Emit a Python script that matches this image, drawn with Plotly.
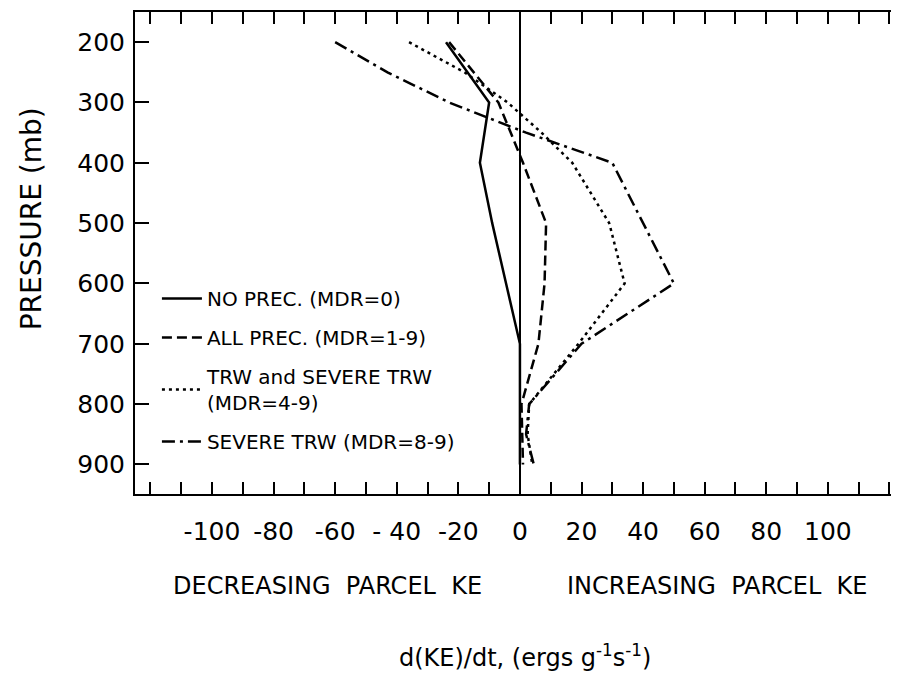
import plotly.graph_objects as go

# pressure levels (mb) and d(KE)/dt values
no_prec_p = [200, 300, 400, 500, 600, 700, 800, 900]
no_prec_x = [-24, -10, -13, -9, -4.5, 0, 0, 0]

all_prec_p = [200, 300, 400, 500, 600, 700, 800, 900]
all_prec_x = [-23, -7, 1, 8.5, 8, 6, 0.5, 1]

trw_p = [200, 250, 300, 350, 400, 500, 600, 700, 800, 850, 900]
trw_x = [-36, -18, -4, 7, 17, 29, 34, 19, 3, 2.5, 4]

severe_p = [200, 250, 300, 350, 400, 500, 600, 700, 800, 850, 900]
severe_x = [-60, -43, -23, 2, 30, 40, 50, 20, 3, 2, 4.5]

series_names = [
    "NO PREC. (MDR=0)",
    "ALL PREC. (MDR=1-9)",
    "TRW and SEVERE TRW<br>(MDR=4-9)",
    "SEVERE TRW (MDR=8-9)",
]

x_tickvals = [-100, -80, -60, -40, -20, 0, 20, 40, 60, 80, 100]
x_ticktext = ["-100", "-80", "-60", "- 40", "-20", "0", "20", "40", "60", "80", "100"]
y_tickvals = [200, 300, 400, 500, 600, 700, 800, 900]
y_ticktext = ["200", "300", "400", "500", "600", "700", "800", "900"]

FONT = "DejaVu Sans"
INK = "black"

series = [
    (no_prec_x, no_prec_p, "solid"),
    (all_prec_x, all_prec_p, "10px,5px"),
    (trw_x, trw_p, "3px,4px"),
    (severe_x, severe_p, "13px,5px,3px,5px"),
]

fig = go.Figure()
for i, (xs, ps, dash) in enumerate(series):
    fig.add_trace(
        go.Scatter(
            x=xs,
            y=ps,
            mode="lines",
            name=series_names[i],
            legendgroup=f"g{i}",
            line={"color": INK, "width": 2.5, "dash": dash},
        )
    )

axis_common = dict(
    showline=True,
    linecolor=INK,
    linewidth=2,
    ticks="inside",
    tickcolor=INK,
    tickwidth=2,
    showgrid=False,
    tickfont={"family": FONT, "size": 25, "color": INK},
)

fig.update_xaxes(
    range=[-125, 120.5],
    tickmode="array",
    tickvals=x_tickvals,
    ticktext=x_ticktext,
    ticklen=12,
    ticklabelstandoff=14,
    mirror="ticks",
    minor={"dtick": 10, "tick0": 0, "ticks": "inside", "ticklen": 12,
           "tickcolor": INK, "tickwidth": 2},
    zeroline=True,
    zerolinecolor=INK,
    zerolinewidth=2,
    **axis_common,
)
fig.update_yaxes(
    range=[949, 150],
    tickmode="array",
    tickvals=y_tickvals,
    ticktext=y_ticktext,
    ticklen=14,
    ticklabelstandoff=3,
    mirror=False,
    zeroline=False,
    **axis_common,
)

fig.add_annotation(text="PRESSURE (mb)", textangle=-90, xref="paper", yref="paper",
                   x=-0.1376, y=0.572, xanchor="center", yanchor="middle", showarrow=False,
                   font={"family": FONT, "size": 28, "color": INK})
fig.add_annotation(text="DECREASING  PARCEL  KE", xref="paper", yref="paper",
                   x=0.255, y=-0.19, xanchor="center", yanchor="middle", showarrow=False,
                   font={"family": FONT, "size": 24, "color": INK})
fig.add_annotation(text="INCREASING  PARCEL  KE", xref="paper", yref="paper",
                   x=0.77, y=-0.19, xanchor="center", yanchor="middle", showarrow=False,
                   font={"family": FONT, "size": 24, "color": INK})
fig.add_annotation(text="d(KE)/dt, (ergs g<sup>-1</sup>s<sup>-1</sup>)", xref="paper", yref="paper",
                   x=0.516, y=-0.336, xanchor="center", yanchor="middle", showarrow=False,
                   font={"family": FONT, "size": 24, "color": INK})

fig.update_layout(
    width=883,
    height=674,
    margin={"l": 127, "r": 0, "t": 4, "b": 188},
    paper_bgcolor="white",
    plot_bgcolor="white",
    showlegend=True,
    legend={
        "x": 0.029,
        "y": 0.446,
        "xanchor": "left",
        "yanchor": "top",
        "bgcolor": "rgba(0,0,0,0)",
        "font": {"family": FONT, "size": 20, "color": INK},
        "tracegroupgap": 10,
        "itemwidth": 40,
    },
)

fig.write_html("out.html")
